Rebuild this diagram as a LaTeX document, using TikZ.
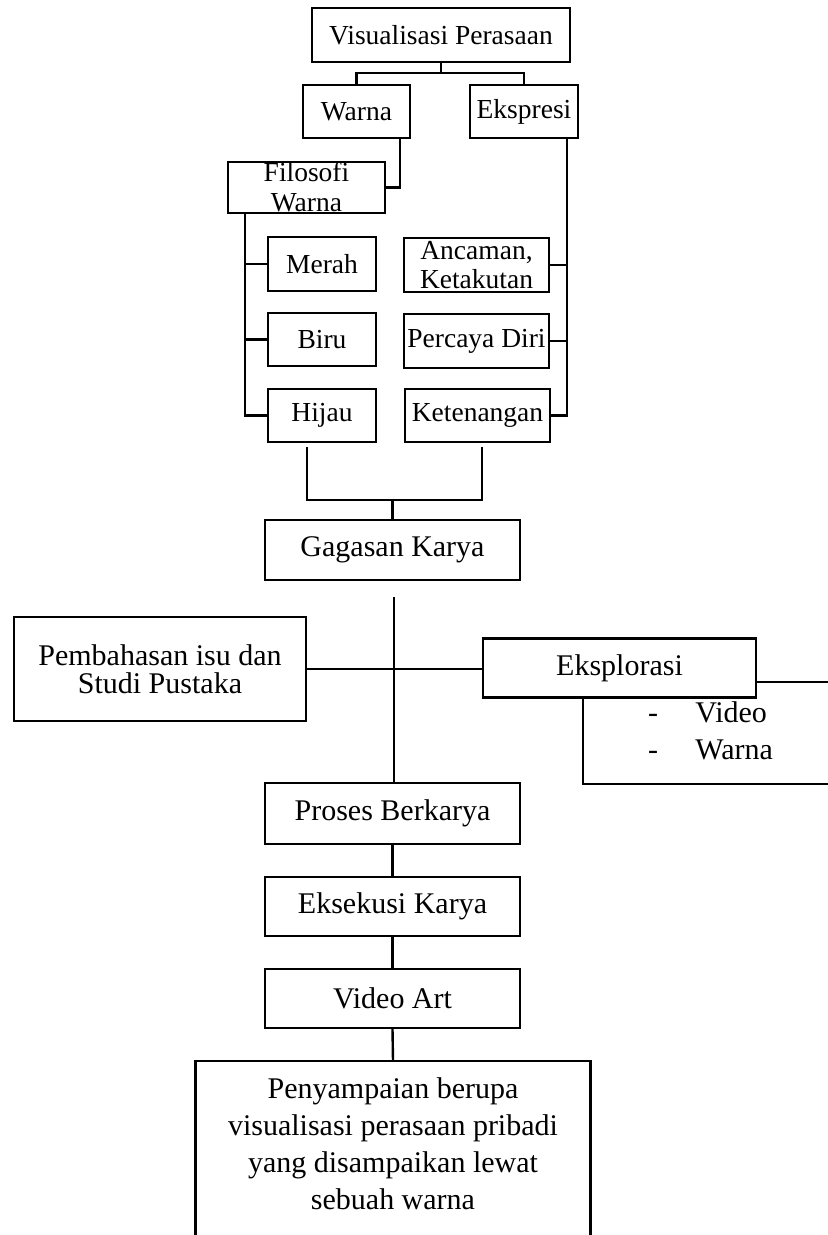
\documentclass[tikz,border=0pt]{standalone}
\usepackage{fontspec}
\setmainfont{Liberation Serif}
\usetikzlibrary{calc}
\begin{document}
\begin{tikzpicture}[x=0.5pt,y=-0.5pt,
  ub/.style={draw, fill=white, inner sep=0pt, align=center, line width=1.4pt, font=\fontsize{13.75}{15}\selectfont},
  lb/.style={draw, fill=white, inner sep=0pt, align=center, line width=1.2pt, font=\fontsize{15}{18.5}\selectfont},
  uc/.style={line width=1.4pt},
  lc/.style={line width=1.2pt},
  ltxt/.style={inner sep=0pt, font=\fontsize{15}{18.5}\selectfont}]
\useasboundingbox[fill=white] (0,0) rectangle (827,1235);

% upper part
\node[ub, minimum width=129pt, minimum height=27pt] (vp) at (441,35) {Visualisasi Perasaan};
\node[ub, minimum width=53.5pt, minimum height=26.5pt] (warna) at (356.5,111.5) {Warna};
\node[ub, minimum width=54pt, minimum height=26.5pt] (ekspresi) at (524,111.5) {Ekspresi};
\node[ub, minimum width=78.5pt, minimum height=25.5pt] (filosofi) at (306.5,187.5) {Filosofi\\Warna};
\node[ub, minimum width=54pt, minimum height=27pt] (merah) at (322,264) {Merah};
\node[ub, minimum width=54pt, minimum height=26.5pt] (biru) at (322,339.5) {Biru};
\node[ub, minimum width=54pt, minimum height=26.5pt] (hijau) at (322,415.5) {Hijau};
\node[ub, minimum width=72.5pt, minimum height=27pt, font=\fontsize{13.75}{14.5}\selectfont] (ancaman) at (476.5,265) {Ancaman,\\Ketakutan};
\node[ub, minimum width=72.5pt, minimum height=27pt] (percaya) at (476.5,341) {Percaya Diri};
\node[ub, minimum width=72.5pt, minimum height=26.5pt] (ketenangan) at (477.5,415.5) {Ketenangan};
\node[lb, minimum width=127.5pt, minimum height=30pt] (gagasan) at (392.5,550) {Gagasan Karya};

\coordinate (j1) at (441,73);
\coordinate (wx) at (400,0);
\coordinate (fx) at (245,0);
\coordinate (ex) at (567,0);
\coordinate (b1) at (307,447);
\coordinate (b2) at (482,447);
\coordinate (bm) at (392.5,500);

\draw[uc] (vp.south) -- (j1);
\draw[uc] (warna.north) |- (j1) -| (ekspresi.north);
\draw[uc] (warna.south -| wx) |- (filosofi.east);
\draw[uc] (filosofi.south -| fx) |- (hijau.west);
\draw[uc] (merah.west) -- (merah.west -| fx);
\draw[uc] (biru.west) -- (biru.west -| fx);
\draw[uc] (ekspresi.south -| ex) |- (ketenangan.east);
\draw[uc] (ancaman.east) -- (ancaman.east -| ex);
\draw[uc] (percaya.east) -- (percaya.east -| ex);
\draw[lc] (b1) |- (bm) -| (b2);
\draw[lc] (bm) -- (gagasan.north);

% lower part
\node[lb, minimum width=146pt, minimum height=52pt, font=\fontsize{15}{14}\selectfont] (pembahasan) at (160,669) {Pembahasan isu dan\\Studi Pustaka};
\node[lb, minimum width=158.5pt, minimum height=51pt] (list) at (741.5,733) {};
\node[lb, minimum width=136.5pt, minimum height=29.5pt] (eksplorasi) at (619.5,668) {Eksplorasi};
\node[ltxt, anchor=base] (d1) at (653,722) {-};
\node[ltxt, anchor=base west] (v1) at (695,722) {Video};
\node[ltxt, anchor=base] (d2) at (653,759) {-};
\node[ltxt, anchor=base west] (v2) at (695,759) {Warna};

\node[lb, minimum width=127.5pt, minimum height=30.5pt] (proses) at (392.5,813.5) {Proses Berkarya};
\node[lb, minimum width=127.5pt, minimum height=29.5pt] (eksekusi) at (392.5,906.5) {Eksekusi Karya};
\node[lb, minimum width=127.5pt, minimum height=29.5pt] (videoart) at (392.5,998.5) {Video Art};
\node[ltxt, align=center, anchor=north, inner xsep=0pt, inner ysep=8.25pt, minimum width=197pt] (final) at (393,1061)
  {Penyampaian berupa\\visualisasi perasaan pribadi\\yang disampaikan lewat\\sebuah warna};

\coordinate (top) at (394,597);
\draw[lc] (top) -- (top |- proses.north);
\draw[lc] (pembahasan.east) -- (pembahasan.east -| eksplorasi.west);
\draw[lc] (proses.south) -- (eksekusi.north);
\draw[lc] (eksekusi.south) -- (videoart.north);
\draw[lc] (videoart.south) -- (final.north);
\draw[lc] ($(final.north west)+(0,250)$) |- (final.north east) -- ++(0,250);
\end{tikzpicture}
\end{document}
